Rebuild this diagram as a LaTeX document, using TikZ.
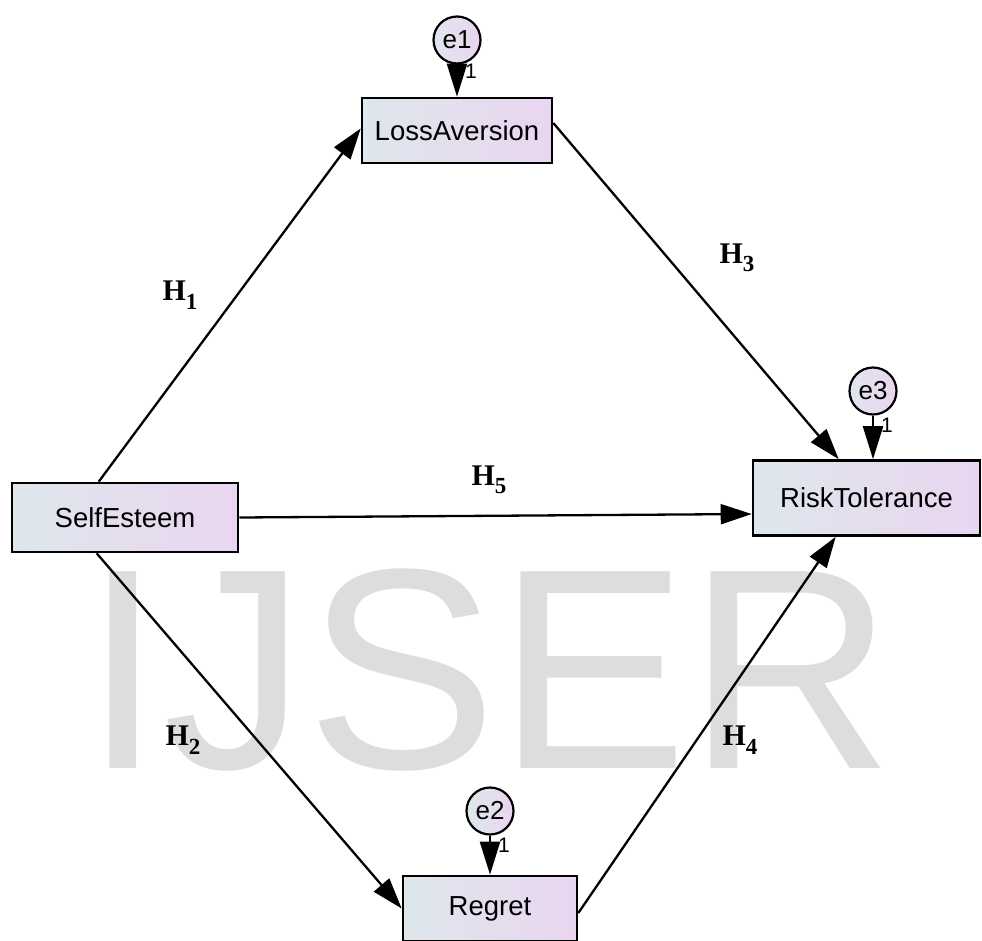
\documentclass[tikz,border=0pt]{standalone}
\usepackage{fontspec}
\setmainfont{Liberation Serif}
\setsansfont{Liberation Sans}
\usetikzlibrary{arrows.meta}
\definecolor{shadeL}{RGB}{222,231,236}
\definecolor{shadeR}{RGB}{234,213,240}
\definecolor{wmgrey}{RGB}{221,221,221}
\newcommand{\hyp}[1]{H\raisebox{-0.28em}{\fontsize{23}{23}\selectfont #1}}
\begin{document}
\begin{tikzpicture}[x=1pt,y=-1pt,
  varbox/.style={draw=black, line width=2.6pt, left color=shadeL, right color=shadeR,
    font=\sffamily\fontsize{27.5}{27.5}\selectfont, inner sep=0pt},
  errc/.style={circle, draw=black, line width=2.2pt, minimum size=47pt, inner sep=0pt,
    left color=shadeL, right color=shadeR, font=\sffamily\fontsize{26}{26}\selectfont},
  patharrow/.style={line width=2.3pt, -{Triangle[length=31pt,width=20pt]}},
  errarrow/.style={line width=2.2pt, -{Triangle[length=33pt,width=20pt]}},
  hlabel/.style={font=\rmfamily\bfseries\fontsize{30}{30}\selectfont, inner sep=0pt},
  onelabel/.style={font=\sffamily\fontsize{21}{21}\selectfont, inner sep=0pt}]
\useasboundingbox (0,0) rectangle (982,940);
\fill[white] (0,0) rectangle (982,940);
% watermark
\node[font=\sffamily\fontsize{286}{286}\selectfont, text=wmgrey, anchor=base, inner sep=0pt] (wm) at (489,768) {IJSER};
% boxes
\node[varbox, minimum width=190pt, minimum height=65pt] (la) at (457,130.5) {LossAversion};
\node[varbox, minimum width=226pt, minimum height=69pt] (se) at (125,517.5) {SelfEsteem};
\node[varbox, minimum width=227pt, minimum height=75pt] (rt) at (866.5,498) {RiskTolerance};
\node[varbox, minimum width=174pt, minimum height=65pt] (rg) at (490,908.5) {Regret};
% error circles
\node[errc] (e1) at (457,40) {e1};
\node[errc] (e3) at (873,391) {e3};
\node[errc] (e2) at (490,811) {e2};
% error arrows
\draw[errarrow] (e1.south) -- (la.north);
\draw[errarrow] (e3.south) -- (e3 |- rt.north);
\draw[errarrow] (e2.south) -- (rg.north);
\node[onelabel] (one1) at ([xshift=14pt,yshift=-7pt]e1.south) {1};
\node[onelabel] (one3) at ([xshift=14pt,yshift=-10pt]e3.south) {1};
\node[onelabel] (one2) at ([xshift=14pt,yshift=-10pt]e2.south) {1};
% structural paths
\draw[patharrow] ([xshift=88pt]se.north west) -- ([yshift=2pt]la.west);
\draw[patharrow] ([yshift=7.5pt]la.east) -- ([xshift=87pt]rt.north west);
\draw[patharrow] (se.east) -- ([yshift=-16pt]rt.west);
\draw[patharrow] ([xshift=86pt]se.south west) -- (rg.west);
\draw[patharrow] ([yshift=-4.5pt]rg.east) -- ([xshift=84pt]rt.south west);
% hypothesis labels
\node[hlabel] (h1) at (180,295) {\hyp{1}};
\node[hlabel] (h2) at (183,740) {\hyp{2}};
\node[hlabel] (h3) at (737,258) {\hyp{3}};
\node[hlabel] (h4) at (740,740) {\hyp{4}};
\node[hlabel] (h5) at (489,480) {\hyp{5}};
\end{tikzpicture}
\end{document}
